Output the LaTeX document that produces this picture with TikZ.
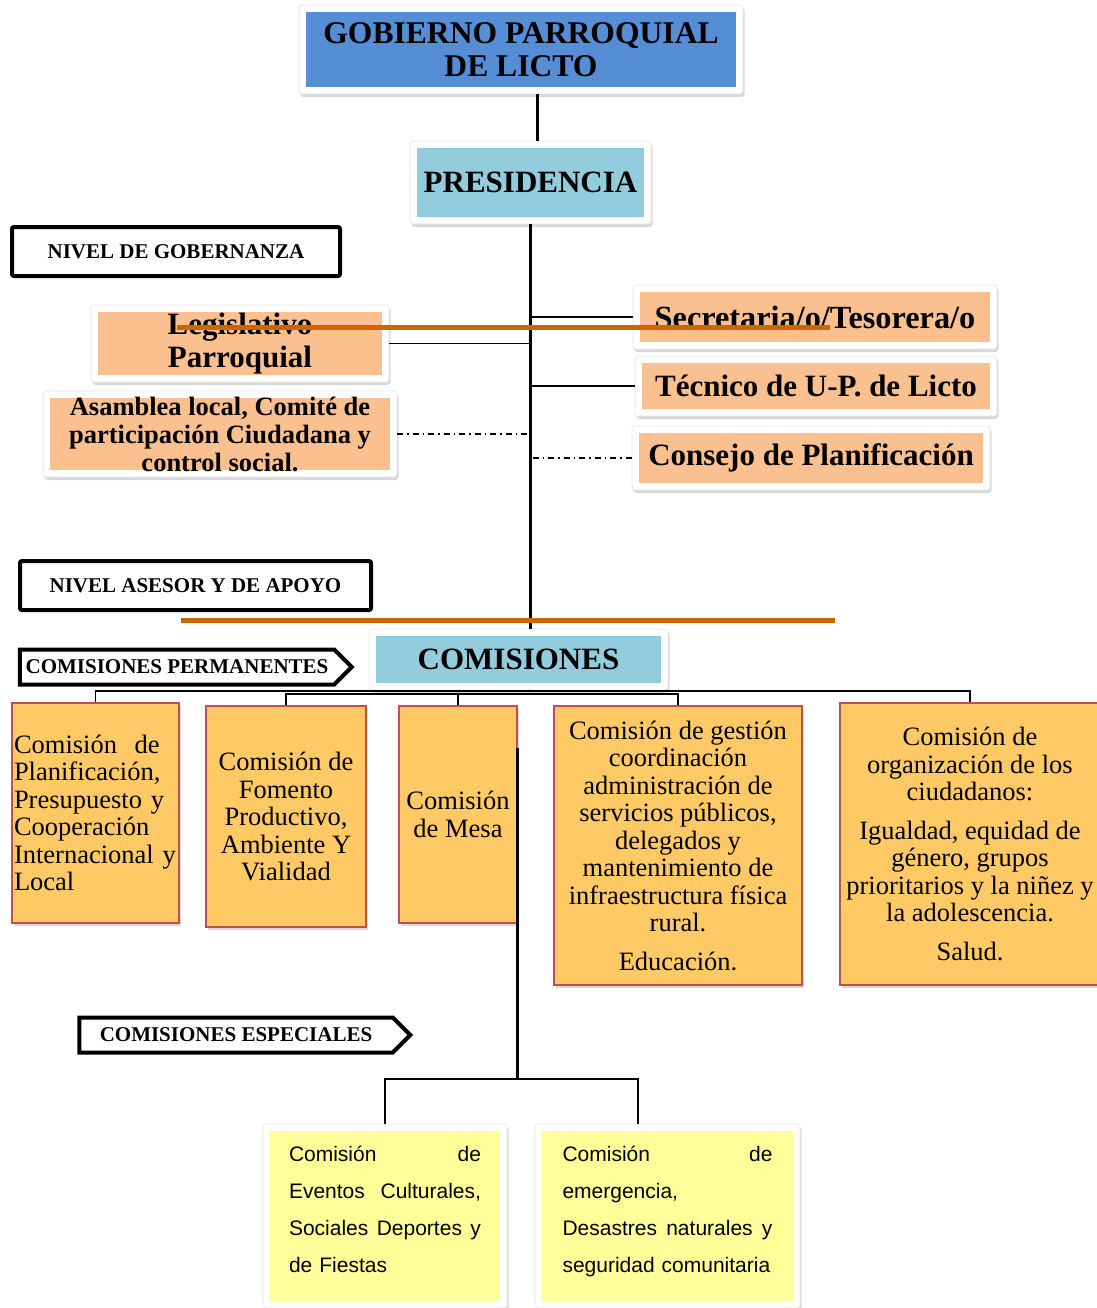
\documentclass[tikz,border=0pt]{standalone}
\usepackage{fontspec}
\setmainfont{Liberation Serif}
\newfontfamily\arialfam{Liberation Sans}
\usetikzlibrary{shadows,shapes.symbols}
\definecolor{azultitulo}{HTML}{558ED5}
\definecolor{celeste}{HTML}{93CDDD}
\definecolor{durazno}{HTML}{FAC090}
\definecolor{naranja}{HTML}{CC6600}
\definecolor{amarillo}{HTML}{FFC965}
\definecolor{rojizo}{HTML}{C0504D}
\definecolor{crema}{HTML}{FFFF99}
\tikzset{
  sombra/.style={drop shadow={shadow xshift=1.5pt, shadow yshift=-3pt, opacity=.3}},
  marco/.style={fill=white, draw=black!10, line width=.6pt, rounded corners=3pt, inner sep=0pt, sombra,
    path picture={\fill[#1, sharp corners] ([shift={(7pt,-7pt)}]path picture bounding box.north west) rectangle ([shift={(-7pt,7pt)}]path picture bounding box.south east);}},
  titulo/.style={align=center, font=\bfseries\fontsize{31}{33}\selectfont},
  nivel/.style={draw, line width=4pt, rounded corners=2pt, minimum height=49pt, font=\bfseries\fontsize{21}{24}\selectfont},
  flecha/.style={signal, signal to=east, signal pointer angle=90, draw, line width=4pt, minimum height=35pt, inner sep=1pt, font=\bfseries\fontsize{21}{24}\selectfont},
  comision/.style={fill=amarillo, draw=rojizo, line width=1.5pt, sombra, align=center, inner sep=1pt, font=\fontsize{26.5}{27.5}\selectfont},
  especial/.style={marco=crema, align=left, font=\arialfam\fontsize{21}{37}\selectfont},
  linea/.style={line width=1.5pt},
  grueso/.style={line width=3pt},
  punteada/.style={line width=1.2pt, dash pattern=on 6pt off 4pt on 1.5pt off 4pt},
  franja/.style={naranja, line width=5pt}
}
\begin{document}
\begin{tikzpicture}[x=1pt, y=-1pt]
  \useasboundingbox (0,0) rectangle (1096,1308);

  \node[marco=azultitulo, minimum width=444pt, minimum height=89pt, titulo, font=\bfseries\fontsize{31.6}{33}\selectfont] (gobierno) at (521,49.5) {GOBIERNO PARROQUIAL\\DE LICTO};
  \node[marco=celeste, minimum width=241pt, minimum height=83pt, titulo] (presidencia) at (530.5,182.5) {PRESIDENCIA};
  \node[nivel, minimum width=328pt] (gobernanza) at (176,251.5) {NIVEL DE GOBERNANZA};
  \node[marco=durazno, minimum width=298pt, minimum height=77pt, titulo] (legislativo) at (240,343.5) {Legislativo\\Parroquial};
  \node[marco=durazno, minimum width=354pt, minimum height=86pt, titulo, font=\bfseries\fontsize{26.5}{28}\selectfont] (asamblea) at (220,434) {Asamblea local, Comité de\\participación Ciudadana y\\control social.};
  \node[marco=durazno, minimum width=364pt, minimum height=64pt, titulo, font=\bfseries\fontsize{32.3}{33}\selectfont] (secretaria) at (815,317) {Secretaria/o/Tesorera/o};
  \node[marco=durazno, minimum width=362pt, minimum height=60pt, titulo] (tecnico) at (816,386) {Técnico de U-P. de Licto};
  \node[marco=durazno, minimum width=358pt, minimum height=64pt, titulo] (consejo) at (811,458) {Consejo de Planificación};
  \node[nivel, minimum width=351pt] (asesor) at (195.5,585.5) {NIVEL ASESOR Y DE APOYO};
  \node[marco=celeste, minimum width=299pt, minimum height=61pt, titulo] (comisiones) at (518.5,659.5) {COMISIONES};
  \node[flecha, minimum width=332pt] (permanentes) at (177,667) {COMISIONES PERMANENTES};

  \node[comision, minimum width=167pt, minimum height=220pt, text width=163pt, align=left] (p1) at (95.5,813) {Comisión\ \ de\\Planificación,\\Presupuesto y\\Cooperación\\Internacional y\\Local};
  \node[comision, minimum width=160pt, minimum height=221pt] (p2) at (286,816.5) {Comisión de\\Fomento\\Productivo,\\Ambiente Y\\Vialidad};
  \node[comision, minimum width=118pt, minimum height=217pt] (p3) at (458,814.5) {Comisión\\de Mesa};
  \node[comision, minimum width=248pt, minimum height=279pt] (p4) at (678,845.5) {Comisión de gestión\\coordinación\\administración de\\servicios públicos,\\delegados y\\mantenimiento de\\infraestructura física\\rural.\\[11pt]Educación.};
  \node[comision, minimum width=260pt, minimum height=282pt] (p5) at (970,844) {Comisión de\\organización de los\\ciudadanos:\\[11pt]Igualdad, equidad de\\género, grupos\\prioritarios y la niñez y\\la adolescencia.\\[11pt]Salud.};

  \node[flecha, minimum width=331pt] (especiales) at (236,1035) {COMISIONES ESPECIALES};
  \node[especial, minimum width=244pt, minimum height=184pt, text width=192pt] (e1) at (385,1216) {Comisión\hfill de\\Eventos\hfill Culturales,\\Sociales\hfill Deportes\hfill y\\de Fiestas\\[-24pt]\mbox{}};
  \node[especial, minimum width=265pt, minimum height=184pt, text width=210pt] (e2) at (667.5,1216) {Comisión\hfill de\\emergencia,\\Desastres\hfill naturales\hfill y\\seguridad comunitaria\\[-24pt]\mbox{}};

  \coordinate (eje) at (537,0);
  \coordinate (busA) at (530,691);
  \coordinate (busB) at (530,694);
  \coordinate (bajada) at (517,748);
  \coordinate (busE) at (517,1079);
  \coordinate (ramal) at (638,1079);

  \draw[grueso] (gobierno.south -| eje) -- (presidencia.north -| eje);
  \draw[line width=2.5pt] (presidencia.south) -- (presidencia.south |- comisiones.north);
  \draw[line width=2.5pt] (presidencia.south |- comisiones.south) -- (busA);
  \draw[linea] (secretaria.west) -- (secretaria.west -| presidencia.south);
  \draw[linea] (tecnico.west) -- (tecnico.west -| presidencia.south);
  \draw[linea] (legislativo.east) -- (legislativo.east -| presidencia.south);
  \draw[punteada] (consejo.west) -- (consejo.west -| presidencia.south);
  \draw[punteada] (asamblea.east) -- (asamblea.east -| presidencia.south);

  \draw[linea] (p1.north) |- (busA) -| (p5.north);
  \draw[linea] (p2.north) |- (busB) -| (p4.north);
  \draw[linea] (p3.north) -- (p3.north |- busB);

  \draw[grueso] (bajada) -- (busE);
  \draw[linea] (e1.north) |- (busE) -- (ramal) -- (ramal |- e2.north);

  \draw[franja] (177,327) -- (830,327);
  \draw[franja] (181,620) -- (835,620);
\end{tikzpicture}
\end{document}
